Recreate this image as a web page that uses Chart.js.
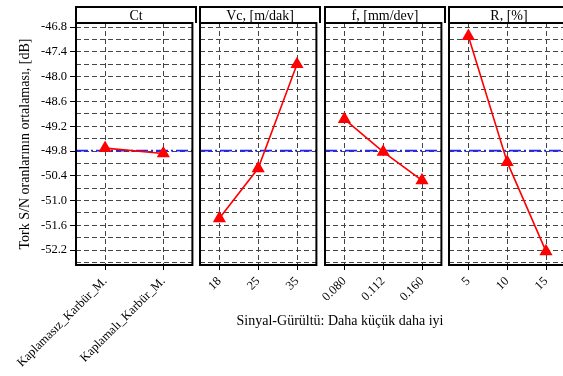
<!DOCTYPE html>
<html>
<head>
<meta charset="utf-8">
<script src="https://cdn.jsdelivr.net/npm/chart.js@4.4.1/dist/chart.umd.min.js"></script>
<style>
body { margin: 0; background: #fff; overflow: hidden; }
#wrap { position: relative; width: 563px; height: 376px; overflow: hidden; }
canvas { position: absolute; top: 0; }
.head { position: absolute; top: 6px; height: 17px; width: 122px; box-sizing: border-box; border: 2px solid #000; border-bottom: none; font: 14px 'Liberation Serif', serif; text-align: center; line-height: 15px; color: #000; }
#caption { position: absolute; left: 190px; top: 313px; width: 300px; text-align: center; font: 14px 'Liberation Serif', serif; color: #000; }
</style>
</head>
<body>
<div id="wrap">
    <canvas id="c1" width="200" height="376" style="left:0px"></canvas>
    <canvas id="c2" width="184" height="376" style="left:140px"></canvas>
    <canvas id="c3" width="184" height="376" style="left:265px"></canvas>
    <canvas id="c4" width="184" height="376" style="left:389px"></canvas>
    <div class="head" style="left:75px">Ct</div>
    <div class="head" style="left:199px">Vc, [m/dak]</div>
    <div class="head" style="left:324px">f, [mm/dev]</div>
    <div class="head" style="left:448px">R, [%]</div>
    <div id="caption">Sinyal-Gürültü: Daha küçük daha iyi</div>
</div>
<script>
// datos
const ctLabels = ['Kaplamasız_Karbür_M.', 'Kaplamalı_Karbür_M.'];
const ctValues = [-49.73, -49.86];
const vcLabels = ['18', '25', '35'];
const vcValues = [-51.43, -50.22, -47.70];
const fLabels = ['0.080', '0.112', '0.160'];
const fValues = [-49.03, -49.82, -50.51];
const rLabels = ['5', '10', '15'];
const rValues = [-47.02, -50.07, -52.23];
const meanSN = -49.79;

// lineas de grilla y etiquetas del eje y
const yGrid = [-46.8, -47.1, -47.4, -47.7, -48.0, -48.3, -48.6, -48.9, -49.2, -49.5,
    -49.8, -50.1, -50.4, -50.7, -51.0, -51.3, -51.6, -51.9, -52.2, -52.5];
const yLabels = [-46.8, -47.4, -48.0, -48.6, -49.2, -49.8, -50.4, -51.0, -51.6, -52.2];
const yTitle = 'Tork S/N oranlarının ortalaması, [dB]';

Chart.defaults.font.family = "'Liberation Serif', 'Times New Roman', serif";
Chart.defaults.color = '#000';

// marco del panel y linea de la media
const framePlugin = {
    id: 'frame',
    beforeDatasetsDraw(chart) {
        const { ctx, chartArea: a, scales: { y } } = chart;
        const py = y.getPixelForValue(meanSN);
        ctx.save();
        ctx.strokeStyle = '#2222ff';
        ctx.lineWidth = 1.6;
        ctx.setLineDash([12, 3, 2, 3]);
        ctx.beginPath();
        ctx.moveTo(a.left, py);
        ctx.lineTo(a.right, py);
        ctx.stroke();
        ctx.restore();
    },
    afterDraw(chart) {
        const { ctx, chartArea: a } = chart;
        ctx.save();
        ctx.strokeStyle = '#000';
        ctx.lineWidth = 2;
        ctx.strokeRect(a.left, a.top, a.right - a.left, a.bottom - a.top);
        ctx.restore();
    }
};

function makePanel(id, labels, values, showY) {
    const ctx = document.getElementById(id).getContext('2d');
    return new Chart(ctx, {
        type: 'line',
        data: {
            labels: labels,
            datasets: [{
                data: values,
                borderColor: '#ff0000',
                backgroundColor: '#ff0000',
                borderWidth: 1.6,
                pointStyle: 'triangle',
                pointRadius: 6,
                pointBackgroundColor: '#ff0000',
                pointBorderColor: '#ff0000',
                tension: 0
            }]
        },
        options: {
            responsive: false,
            animation: false,
            layout: { padding: { top: 23, bottom: 0, left: showY ? 0 : 60, right: 4 } },
            plugins: { legend: { display: false }, tooltip: { enabled: false } },
            scales: {
                x: {
                    type: 'category',
                    offset: true,
                    border: { display: false, dash: [5, 3] },
                    grid: { color: '#444', lineWidth: 1, tickColor: '#000', tickLength: 5, tickWidth: 1 },
                    ticks: { autoSkip: false, minRotation: 45, maxRotation: 45, padding: 4, font: { size: 12.5 } },
                    afterFit: s => { s.height = 111; s.paddingLeft = 0; s.paddingRight = 0; }
                },
                y: {
                    display: showY ? true : 'auto',
                    min: -52.56,
                    max: -46.70,
                    border: { display: false, dash: [5, 3] },
                    grid: {
                        color: '#444',
                        lineWidth: 1,
                        tickLength: 6,
                        tickWidth: 1,
                        drawTicks: showY,
                        tickColor: c => (c.tick && c.tick.label !== '') ? '#000' : 'rgba(0,0,0,0)'
                    },
                    afterBuildTicks: s => { s.ticks = yGrid.map(v => ({ value: v })); },
                    ticks: {
                        display: showY,
                        autoSkip: false,
                        padding: 3,
                        font: { size: 12.5 },
                        callback: v => yLabels.some(l => Math.abs(l - v) < 1e-6) ? v.toFixed(1) : ''
                    },
                    title: { display: showY, text: yTitle, font: { size: 14 }, padding: { top: 17, bottom: 0 } },
                    afterFit: s => { if (showY) { s.width = 76; } else { s.width = 0; } s.paddingTop = 0; s.paddingBottom = 0; }
                }
            }
        },
        plugins: [framePlugin]
    });
}

makePanel('c1', ctLabels, ctValues, true);
makePanel('c2', vcLabels, vcValues, false);
makePanel('c3', fLabels, fValues, false);
makePanel('c4', rLabels, rValues, false);
</script>
</body>
</html>
